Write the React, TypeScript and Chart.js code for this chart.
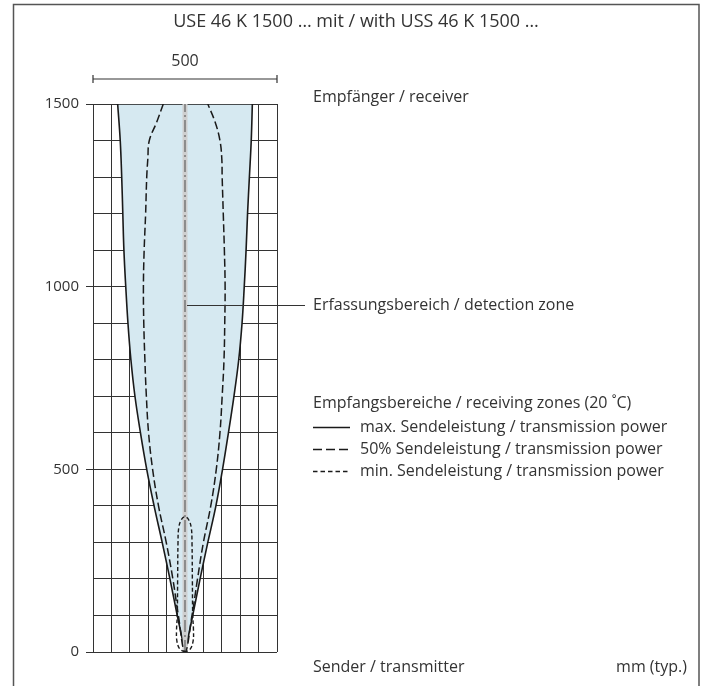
import { useEffect, useRef } from 'react';
import { Chart, registerables } from 'chart.js';

Chart.register(...registerables);

// ---- data (mm) ----
const maxDistance = [0, 100, 200, 300, 400, 500, 600, 700, 800, 900, 1000, 1100, 1200, 1300, 1400, 1500];
const maxLeftEdge = [0, -21, -41, -62, -84, -104, -121, -136, -147, -155, -161, -166, -169, -172, -176, -183];
const maxRightEdge = [0, 21, 41, 62, 84, 102, 118, 133, 146, 155, 161, 166, 170, 175, 180, 183];

const halfDistance = [0, 100, 200, 300, 400, 500, 600, 700, 800, 900, 1000, 1100, 1200, 1300, 1350, 1400, 1450, 1500];
const halfLeftEdge = [0, -18, -33, -51, -72, -88, -99, -105, -109, -112, -113, -111, -107, -104, -101, -97, -77, -59];
const halfRightEdge = [0, 19, 34, 50, 70, 85, 95, 101, 106, 108, 109, 107, 104, 101, 100, 95, 82, 62];

const minDistance = [0, 8, 30, 60, 100, 200, 300, 340, 362, 370];
const minLeftEdge = [0, -14, -22, -23, -21, -20, -19, -17, -10, 0];
const minRightEdge = [0, 14, 22, 23, 21, 20, 19, 17, 10, 0];

const axisDistance = [0, 1500];
const axisLateral = [0, 0];

const yTickLabels = [0, 500, 1000, 1500];
const beamWidthLabel = '500';
const beamWidthRange = [-250, 250];
const detectionLeaderAt = 950;

const TITLE = 'USE 46 K 1500 … mit / with USS 46 K 1500 …';
const LABEL_RECEIVER = 'Empfänger / receiver';
const LABEL_ZONE = 'Erfassungsbereich / detection zone';
const LABEL_ZONES = 'Empfangsbereiche / receiving zones (20 ˚C)';
const LEGEND_MAX = 'max. Sendeleistung / transmission power';
const LEGEND_HALF = '50% Sendeleistung / transmission power';
const LEGEND_MIN = 'min. Sendeleistung / transmission power';
const LABEL_SENDER = 'Sender / transmitter';
const LABEL_UNIT = 'mm (typ.)';

const FONT = '"Open Sans", "Noto Sans", sans-serif';
const TEXT = '#333333';
const GRID = '#333333';
const LINE = '#1a1a1a';
const FILL = '#d6e9f1';

const DASH_HALF = [8, 3.5];
const DASH_MIN = [4, 2.5];

type P = { x: number; y: number };

function closedOutline(dist: number[], left: number[], right: number[], dupTop: boolean): P[] {
  const pts: P[] = [];
  for (let i = 0; i < dist.length; i++) pts.push({ x: left[i], y: dist[i] });
  if (dupTop) pts.push({ x: left[dist.length - 1], y: dist[dist.length - 1] });
  if (dupTop) pts.push({ x: right[dist.length - 1], y: dist[dist.length - 1] });
  for (let i = dist.length - 1; i >= 0; i--) {
    if (!dupTop && i === dist.length - 1 && left[i] === right[i]) continue;
    pts.push({ x: right[i], y: dist[i] });
  }
  return pts;
}

const decorPlugin = {
  id: 'decor',
  beforeDraw(chart: any) {
    const ctx = chart.ctx as CanvasRenderingContext2D;
    ctx.save();
    ctx.strokeStyle = '#555';
    ctx.lineWidth = 1.5;
    ctx.beginPath();
    ctx.moveTo(13.5, 686);
    ctx.lineTo(13.5, 4.5);
    ctx.lineTo(699, 4.5);
    ctx.lineTo(699, 686);
    ctx.stroke();
    ctx.restore();
  },
  afterDraw(chart: any) {
    const ctx = chart.ctx as CanvasRenderingContext2D;
    const xs = chart.scales.x;
    const ys = chart.scales.y;
    ctx.save();
    ctx.fillStyle = TEXT;
    ctx.textBaseline = 'middle';

    // title
    ctx.font = `18px ${FONT}`;
    ctx.textAlign = 'center';
    ctx.fillText(TITLE, 356, 22);

    ctx.font = `16px ${FONT}`;
    // dimension line
    const x0 = xs.getPixelForValue(beamWidthRange[0]);
    const x1 = xs.getPixelForValue(beamWidthRange[1]);
    const xc = xs.getPixelForValue(0);
    ctx.fillText(beamWidthLabel, xc, 61);
    ctx.strokeStyle = '#333';
    ctx.lineWidth = 1.2;
    ctx.beginPath();
    ctx.moveTo(x0, 79);
    ctx.lineTo(x1, 79);
    ctx.moveTo(x0, 75);
    ctx.lineTo(x0, 83);
    ctx.moveTo(x1, 75);
    ctx.lineTo(x1, 83);
    ctx.stroke();

    // leader line to detection zone
    const yl = Math.round(ys.getPixelForValue(detectionLeaderAt)) + 0.5;
    ctx.lineWidth = 1;
    ctx.beginPath();
    ctx.moveTo(xc + 2, yl);
    ctx.lineTo(305, yl);
    ctx.stroke();

    ctx.textAlign = 'left';
    const tx = 313;
    ctx.fillText(LABEL_RECEIVER, tx, 97);
    ctx.fillText(LABEL_ZONE, tx, yl);
    ctx.fillText(LABEL_ZONES, tx, 403);

    const legend: [string, number[], number][] = [
      [LEGEND_MAX, [], 427],
      [LEGEND_HALF, [9, 4], 449],
      [LEGEND_MIN, [4.5, 3], 471],
    ];
    for (const [label, dash, y] of legend) {
      ctx.strokeStyle = LINE;
      ctx.lineWidth = 1.4;
      ctx.setLineDash(dash);
      ctx.beginPath();
      ctx.moveTo(tx, y + 0.5);
      ctx.lineTo(350, y + 0.5);
      ctx.stroke();
      ctx.setLineDash([]);
      ctx.fillText(label, 360, y);
    }

    ctx.fillText(LABEL_SENDER, tx, 667);
    ctx.textAlign = 'right';
    ctx.fillText(LABEL_UNIT, 687, 667);
    ctx.restore();
  },
};

export default function App() {
  const ref = useRef<HTMLCanvasElement | null>(null);

  useEffect(() => {
    if (!ref.current) return;
    const maxPts = closedOutline(maxDistance, maxLeftEdge, maxRightEdge, true);
    const halfPts: P[] = [];
    for (let i = halfDistance.length - 1; i >= 0; i--) halfPts.push({ x: halfLeftEdge[i], y: halfDistance[i] });
    for (let i = 1; i < halfDistance.length; i++) halfPts.push({ x: halfRightEdge[i], y: halfDistance[i] });
    const minPts = closedOutline(minDistance, minLeftEdge, minRightEdge, false);
    const axisPts = axisDistance.map((d, i) => ({ x: axisLateral[i], y: d }));

    const chart = new Chart(ref.current, {
      type: 'scatter',
      data: {
        datasets: [
          {
            label: 'min',
            data: minPts,
            showLine: true,
            borderColor: LINE,
            borderWidth: 1.4,
            borderDash: DASH_MIN,
            pointRadius: 0,
            tension: 0.4,
            fill: false,
          },
          {
            label: '50%',
            data: halfPts,
            showLine: true,
            borderColor: LINE,
            borderWidth: 1.5,
            borderDash: DASH_HALF,
            pointRadius: 0,
            tension: 0.4,
            fill: false,
          },
          {
            label: 'axis-dash',
            data: axisPts,
            showLine: true,
            borderColor: '#7c7c7c',
            borderWidth: 1.6,
            borderDash: [12, 3, 2, 3],
            pointRadius: 0,
            fill: false,
          },
          {
            label: 'axis',
            data: axisPts,
            showLine: true,
            borderColor: '#cfcfcf',
            borderWidth: 5,
            pointRadius: 0,
            fill: false,
          },
          {
            label: 'max',
            data: maxPts,
            showLine: true,
            borderColor: LINE,
            borderWidth: 1.6,
            backgroundColor: FILL,
            pointRadius: 0,
            tension: 0.4,
            fill: 'shape',
          },
        ],
      } as any,
      options: {
        responsive: false,
        animation: false,
        layout: { padding: { left: 0, right: 425, top: 104, bottom: 34 } },
        plugins: {
          legend: { display: false },
          tooltip: { enabled: false },
          title: { display: false },
        },
        scales: {
          x: {
            type: 'linear',
            min: -250,
            max: 250,
            z: 1,
            ticks: { display: false, stepSize: 50, autoSkip: false },
            grid: { color: GRID, lineWidth: 1, drawTicks: false },
            border: { display: false },
            afterFit(s: any) {
              s.height = 0;
            },
          },
          y: {
            type: 'linear',
            min: 0,
            max: 1500,
            z: 1,
            ticks: {
              stepSize: 100,
              autoSkip: false,
              padding: 7,
              color: TEXT,
              font: { family: FONT, size: 15 },
              callback: (v: any) => (yTickLabels.includes(Number(v)) ? String(v) : ''),
            },
            grid: {
              color: GRID,
              lineWidth: 1,
              tickLength: 7,
              tickColor: (c: any) => (c.tick && yTickLabels.includes(c.tick.value) ? GRID : 'rgba(0,0,0,0)'),
            },
            border: { display: false },
            afterFit(s: any) {
              s.width = 93;
            },
          },
        } as any,
      },
      plugins: [decorPlugin],
    });
    return () => chart.destroy();
  }, []);

  return (
    <div style={{ position: 'absolute', left: 0, top: 0, width: 702, height: 686, background: '#fff' }}>
      <canvas ref={ref} width={702} height={686} style={{ width: 702, height: 686, display: 'block' }} />
    </div>
  );
}
